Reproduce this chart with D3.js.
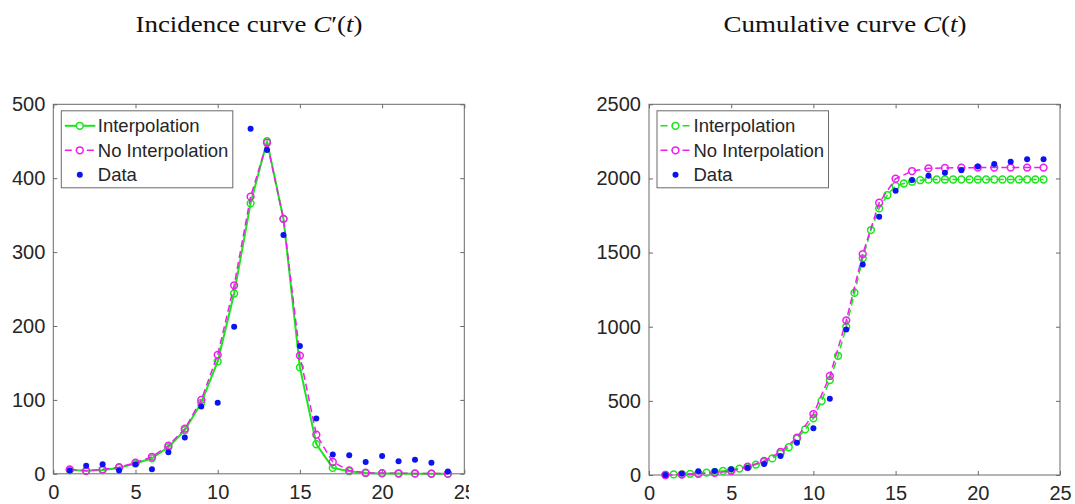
<!DOCTYPE html>
<html>
<head>
<meta charset="utf-8">
<script src="https://cdn.jsdelivr.net/npm/d3@7"></script>
<style>
  body { margin: 0; background: #fff; }
  svg { display: block; }
</style>
</head>
<body>
<svg id="fig" width="1075" height="504"></svg>
<script>
// ---- data -------------------------------------------------------------
const days = [1, 2, 3, 4, 5, 6, 7, 8, 9, 10, 11, 12, 13, 14, 15, 16, 17, 18, 19, 20, 21, 22, 23, 24];
const halfDays = [1, 1.5, 2, 2.5, 3, 3.5, 4, 4.5, 5, 5.5, 6, 6.5, 7, 7.5, 8, 8.5, 9, 9.5, 10, 10.5,
  11, 11.5, 12, 12.5, 13, 13.5, 14, 14.5, 15, 15.5, 16, 16.5, 17, 17.5, 18, 18.5, 19, 19.5, 20, 20.5,
  21, 21.5, 22, 22.5, 23, 23.5, 24];

// incidence C'(t)
const incidenceInterp = [5, 4, 5, 8, 14, 21, 36, 59, 96, 152, 244, 366, 450, 345, 144, 40, 8, 3.5, 1, 0.5, 0.3, 0.2, 0.1, 0.1];
const incidenceNoInterp = [6, 4, 6, 9, 15, 23, 38, 61, 100, 161, 255, 375, 448, 345, 160, 53, 16, 4.5, 1.5, 1, 0.7, 0.5, 0.3, 0.2];
const incidenceData = [4.5, 11, 13, 4.5, 13, 6, 29, 49, 91, 96, 199, 467, 438, 323, 173, 75, 26, 25, 16, 24, 17, 19, 15, 3];

// cumulative C(t)
const cumulativeInterp = [0, 4, 5, 8, 10, 16, 20, 27, 33, 43, 53, 70, 88, 112, 146, 187, 245, 308, 382, 499,
  640, 804, 1000, 1229, 1461, 1652, 1798, 1888, 1950, 1966, 1978, 1988, 1992, 1993, 1993, 1993, 1993, 1993,
  1993, 1993, 1993, 1993, 1993, 1993, 1993, 1993, 1993];
const cumulativeNoInterp = [0, 3, 8, 14, 27, 56, 95, 155, 252, 411, 668, 1043, 1490, 1836, 1998, 2050, 2068, 2071, 2072, 2073, 2073, 2073, 2073, 2073];
const cumulativeData = [0, 9, 25, 27, 38, 49, 74, 128, 218, 315, 515, 982, 1420, 1742, 1917, 1989, 2018, 2038, 2056, 2081, 2097, 2112, 2130, 2130];

const xTicks = [0, 5, 10, 15, 20, 25];
const incidenceTicks = [0, 100, 200, 300, 400, 500];
const cumulativeTicks = [0, 500, 1000, 1500, 2000, 2500];
const legendNames = ["Interpolation", "No Interpolation", "Data"];

// ---- styling ----------------------------------------------------------
const GREEN = "#19e619";
const MAGENTA = "#f01cf0";
const BLUE = "#0a14ee";
const AXIS = "#6a6a6a";
const INK = "#262626";
const DASH = "7,4";

const svg = d3.select("#fig");

svg.append("defs").append("clipPath").attr("id", "leftClip")
  .append("rect").attr("x", 0).attr("y", 0).attr("width", 469).attr("height", 504);

function drawPanel(opt) {
  const g = svg.append("g");
  if (opt.clip) g.attr("clip-path", `url(#${opt.clip})`);

  const x = d3.scaleLinear().domain([0, 25]).range([opt.left, opt.right]);
  const y = d3.scaleLinear().domain([0, opt.yMax]).range([opt.bottom, opt.top]);

  // title (roman text with italic math symbols)
  const title = g.append("text")
    .attr("x", opt.titleX).attr("y", 32)
    .attr("text-anchor", "middle")
    .attr("font-family", "'Liberation Serif', 'DejaVu Serif', serif")
    .attr("font-size", 23)
    .attr("fill", "#111");
  opt.title.forEach(([txt, italic]) => {
    const t = title.append("tspan").text(txt);
    if (italic) t.attr("font-style", "italic");
  });
  title.attr("textLength", opt.titleWidth).attr("lengthAdjust", "spacingAndGlyphs");

  // axes
  const fmt = d3.format("d");
  const fontAxis = (sel) => {
    sel.select(".domain").remove();
    sel.selectAll(".tick line").attr("stroke", AXIS);
    sel.selectAll(".tick text")
      .attr("fill", INK)
      .attr("font-family", "'Liberation Sans', Arial, sans-serif")
      .attr("font-size", 20);
  };
  g.append("g").attr("transform", `translate(0,${opt.bottom})`)
    .call(d3.axisBottom(x).tickValues(xTicks).tickFormat(fmt).tickSize(-4).tickPadding(11)).call(fontAxis);
  g.append("g").attr("transform", `translate(0,${opt.top})`)
    .call(d3.axisTop(x).tickValues(xTicks).tickSize(-4).tickFormat("")).call(fontAxis);
  g.append("g").attr("transform", `translate(${opt.left},0)`)
    .call(d3.axisLeft(y).tickValues(opt.yTicks).tickFormat(fmt).tickSize(-4).tickPadding(8)).call(fontAxis);
  g.append("g").attr("transform", `translate(${opt.right},0)`)
    .call(d3.axisRight(y).tickValues(opt.yTicks).tickSize(-4).tickFormat("")).call(fontAxis);

  g.append("rect")
    .attr("x", x(0)).attr("y", y(opt.yMax))
    .attr("width", x(25) - x(0)).attr("height", y(0) - y(opt.yMax))
    .attr("fill", "none").attr("stroke", AXIS).attr("stroke-width", 1);

  // series
  const line = d3.line().x(d => x(d[0])).y(d => y(d[1]));
  opt.series.forEach(s => {
    const pts = d3.zip(s.xs, s.ys);
    if (s.line) {
      g.append("path").datum(pts)
        .attr("d", line)
        .attr("fill", "none")
        .attr("stroke", s.color)
        .attr("stroke-width", s.width)
        .attr("stroke-dasharray", s.dash || null)
        .attr("stroke-linejoin", "round");
    }
    g.append("g").selectAll("circle").data(pts).join("circle")
      .attr("cx", d => x(d[0])).attr("cy", d => y(d[1]))
      .attr("r", s.marker === "dot" ? 3 : 3.4)
      .attr("fill", s.marker === "dot" ? s.color : "none")
      .attr("stroke", s.marker === "dot" ? "none" : s.color)
      .attr("stroke-width", 1.5);
  });

  // legend
  const lg = g.append("g").attr("transform", `translate(${opt.left + 8},${opt.top + 6.5})`);
  lg.append("rect").attr("width", 171.5).attr("height", 77)
    .attr("fill", "#fff").attr("stroke", AXIS).attr("stroke-width", 1);
  opt.series.forEach((s, i) => {
    const row = lg.append("g").attr("transform", `translate(0,${15 + i * 24.5})`);
    if (s.line) {
      row.append("line").attr("x1", 3.5).attr("x2", 34).attr("y1", 0).attr("y2", 0)
        .attr("stroke", s.color).attr("stroke-width", s.width)
        .attr("stroke-dasharray", s.dash || null);
    }
    row.append("circle").attr("cx", 18.5).attr("cy", 0)
      .attr("r", s.marker === "dot" ? 3 : 3.4)
      .attr("fill", s.marker === "dot" ? s.color : "#fff")
      .attr("stroke", s.marker === "dot" ? "none" : s.color)
      .attr("stroke-width", 1.5);
    row.append("text").attr("x", 36.5).attr("y", 0).attr("dy", "0.35em")
      .attr("fill", INK)
      .attr("font-family", "'Liberation Sans', Arial, sans-serif")
      .attr("font-size", 18.5)
      .text(legendNames[i]);
  });
}

drawPanel({
  left: 53.3, right: 464.3, top: 104.3, bottom: 473.8,
  yMax: 500, yTicks: incidenceTicks,
  titleX: 249, titleWidth: 227,
  title: [["Incidence curve ", false], ["C", true], ["\u2032(", false], ["t", true], [")", false]],
  clip: "leftClip",
  series: [
    { xs: days, ys: incidenceInterp, color: GREEN, line: true, width: 2, dash: null, marker: "circle" },
    { xs: days, ys: incidenceNoInterp, color: MAGENTA, line: true, width: 1.5, dash: DASH, marker: "circle" },
    { xs: days, ys: incidenceData, color: BLUE, line: false, marker: "dot" }
  ]
});

drawPanel({
  left: 649, right: 1060, top: 104.3, bottom: 475,
  yMax: 2500, yTicks: cumulativeTicks,
  titleX: 845, titleWidth: 243,
  title: [["Cumulative curve ", false], ["C", true], ["(", false], ["t", true], [")", false]],
  series: [
    { xs: halfDays, ys: cumulativeInterp, color: GREEN, line: true, width: 1.5, dash: DASH, marker: "circle" },
    { xs: days, ys: cumulativeNoInterp, color: MAGENTA, line: true, width: 1.5, dash: DASH, marker: "circle" },
    { xs: days, ys: cumulativeData, color: BLUE, line: false, marker: "dot" }
  ]
});
</script>
</body>
</html>
